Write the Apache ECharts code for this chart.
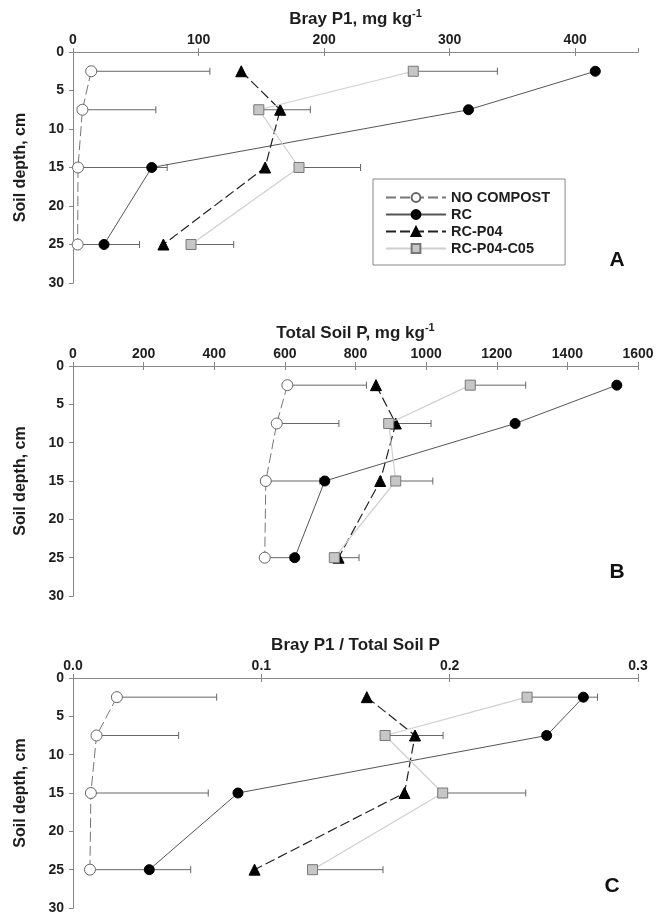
<!DOCTYPE html>
<html>
<head>
<meta charset="utf-8">
<script src="https://cdn.jsdelivr.net/npm/echarts@6/dist/echarts.min.js"></script>
<style>
html,body{margin:0;padding:0;background:#fff;}
#chart{width:665px;height:915px;}
</style>
</head>
<body>
<div id="chart"></div>
<script>
// ---- Data ----
const depths = [2.5, 7.5, 15, 25];
const seriesNames = ['NO COMPOST', 'RC', 'RC-P04', 'RC-P04-C05'];

// Panel A: Bray P1, mg/kg
const brayNoCompost = [14.5, 7.5, 4, 3.7];
const brayNoCompostErr = [109, 66, 75, 53];
const brayRC = [416, 315, 62.7, 24.7];
const brayRCP04 = [134, 165, 153, 72];
const brayRCP04C05 = [271, 148, 180, 94];
const brayRCP04C05Err = [338, 189, 229, 128];

// Panel B: Total soil P, mg/kg
const totalNoCompost = [607, 577, 546, 543];
const totalNoCompostErr = [831, 753, 699, 615];
const totalRC = [1540, 1252, 713, 628];
const totalRCP04 = [858, 914, 870, 752];
const totalRCP04C05 = [1125, 894, 914, 740];
const totalRCP04C05Err = [1282, 1014, 1019, 810];

// Panel C: Bray P1 / Total soil P
const ratioNoCompost = [0.0233, 0.0125, 0.0095, 0.009];
const ratioNoCompostErr = [0.0763, 0.0561, 0.0718, 0.0625];
const ratioRC = [0.271, 0.2515, 0.0876, 0.0405];
const ratioRCP04 = [0.156, 0.1816, 0.176, 0.0964];
const ratioRCP04C05 = [0.2411, 0.1657, 0.1963, 0.1272];
const ratioRCP04C05Err = [0.2785, 0.1965, 0.2404, 0.1646];

// Axis tick settings
const depthTicks = {min: 0, max: 30, interval: 5};
const xTicksA = {min: 0, max: 450, interval: 100};
const xTicksB = {min: 0, max: 1600, interval: 200};
const xTicksC = {min: 0, max: 0.3, interval: 0.1};

const panelTitles = [
  ['Bray P1, mg kg', '-1'],
  ['Total Soil P, mg kg', '-1'],
  ['Bray P1 / Total Soil P', '']
];
const panelLetters = ['A', 'B', 'C'];
const yAxisTitle = 'Soil depth, cm';

// ---- Styles ----
const FONT = '"Liberation Sans", Arial, sans-serif';
const AX = '#888';
const TXT = '#1e1e1e';
const styles = {
  'NO COMPOST': {symbol: 'circle', size: 11, color: '#fff', border: '#666', line: '#777', type: [10, 4], width: 1},
  'RC': {symbol: 'circle', size: 10, color: '#000', border: '#000', line: '#555', type: 'solid', width: 1},
  'RC-P04': {symbol: 'triangle', size: 11, color: '#000', border: '#000', line: '#222', type: [10, 4], width: 1.2},
  'RC-P04-C05': {symbol: 'rect', size: 10, color: '#c6c6c6', border: '#777', line: '#cfcfcf', type: 'solid', width: 1.2}
};

const grids = [
  {left: 73, top: 52, width: 565, height: 231},
  {left: 73, top: 366, width: 565, height: 230},
  {left: 73, top: 678, width: 565, height: 231}
];
const xTicks = [xTicksA, xTicksB, xTicksC];
const panelData = [
  [brayNoCompost, brayRC, brayRCP04, brayRCP04C05, brayNoCompostErr, brayRCP04C05Err],
  [totalNoCompost, totalRC, totalRCP04, totalRCP04C05, totalNoCompostErr, totalRCP04C05Err],
  [ratioNoCompost, ratioRC, ratioRCP04, ratioRCP04C05, ratioNoCompostErr, ratioRCP04C05Err]
];

const xAxes = [], yAxes = [], series = [];
grids.forEach((g, i) => {
  const t = xTicks[i];
  const fmt = i === 2 ? (v => v.toFixed(1)) : (v => (Math.abs(v % t.interval) < 1e-9 ? String(v) : ''));
  xAxes.push({
    gridIndex: i, type: 'value', position: 'top', min: t.min, max: t.max, interval: t.interval,
    axisLine: {show: true, lineStyle: {color: AX, width: 1}},
    axisTick: {show: true, inside: true, length: 4, lineStyle: {color: AX}},
    axisLabel: {show: true, margin: 5, color: TXT, fontWeight: 'bold', fontSize: 14, fontFamily: FONT, formatter: fmt, showMaxLabel: i !== 0},
    splitLine: {show: false},
    name: panelTitles[i][1] ? '{a|' + panelTitles[i][0] + '}{s|' + panelTitles[i][1] + '}' : '{a|' + panelTitles[i][0] + '}',
    nameLocation: 'middle', nameGap: 24,
    nameTextStyle: {
      rich: {
        a: {fontSize: 17, fontWeight: 'bold', fontFamily: FONT, color: TXT, lineHeight: 20, verticalAlign: 'bottom'},
        s: {fontSize: 11, fontWeight: 'bold', fontFamily: FONT, color: TXT, lineHeight: 12, verticalAlign: 'top'}
      }
    }
  });
  xAxes.push({
    gridIndex: i, type: 'value', position: 'bottom', min: t.min, max: t.max, interval: t.interval,
    axisLine: {show: true, lineStyle: {color: AX, width: 1}},
    axisTick: {show: true, inside: true, length: 4, lineStyle: {color: AX}},
    axisLabel: {show: false}, splitLine: {show: false}
  });
  yAxes.push({
    gridIndex: i, type: 'value', position: 'left', inverse: true,
    min: depthTicks.min, max: depthTicks.max, interval: depthTicks.interval,
    axisLine: {show: true, lineStyle: {color: AX, width: 1}},
    axisTick: {show: true, inside: false, length: 4, lineStyle: {color: AX}},
    axisLabel: {show: true, margin: 9, color: TXT, fontWeight: 'bold', fontSize: 14, fontFamily: FONT},
    splitLine: {show: false},
    name: yAxisTitle, nameLocation: 'middle', nameGap: 44,
    nameTextStyle: {fontSize: 16, fontWeight: 'bold', fontFamily: FONT, color: TXT}
  });
  yAxes.push({
    gridIndex: i, type: 'value', position: 'right', inverse: true,
    min: depthTicks.min, max: depthTicks.max, interval: depthTicks.interval,
    axisLine: {show: true, lineStyle: {color: AX, width: 1}},
    axisTick: {show: true, inside: true, length: 4, lineStyle: {color: AX}},
    axisLabel: {show: false}, splitLine: {show: false}
  });

  const xi = i * 2, yi = i * 2;
  const d = panelData[i];
  // error bars (NO COMPOST and RC-P04-C05)
  [[d[0], d[4]], [d[3], d[5]]].forEach(([vals, errs]) => {
    series.push({
      type: 'custom', xAxisIndex: xi, yAxisIndex: yi, z: 1, silent: true,
      data: depths.map((dep, k) => [vals[k], dep, errs[k]]),
      encode: {x: [0, 2], y: 1},
      renderItem: (params, api) => {
        const p0 = api.coord([api.value(0), api.value(1)]);
        const p1 = api.coord([api.value(2), api.value(1)]);
        return {type: 'group', children: [
          {type: 'line', shape: {x1: p0[0], y1: p0[1], x2: p1[0], y2: p1[1]}, style: {stroke: '#666', lineWidth: 1}},
          {type: 'line', shape: {x1: p1[0], y1: p1[1] - 3.5, x2: p1[0], y2: p1[1] + 3.5}, style: {stroke: '#666', lineWidth: 1}}
        ]};
      }
    });
  });
  seriesNames.forEach((name, k) => {
    const s = styles[name];
    series.push({
      name, type: 'line', xAxisIndex: xi, yAxisIndex: yi, z: 3 + k,
      data: depths.map((dep, j) => [d[k][j], dep]),
      symbol: s.symbol, symbolSize: s.size, showAllSymbol: true,
      itemStyle: {color: s.color, borderColor: s.border, borderWidth: 1, opacity: 1},
      lineStyle: {color: s.line, width: s.width, type: s.type},
      emphasis: {disabled: true}
    });
  });
});

const letterPos = [[617, 260], [617, 572], [612, 886]];
const graphics = panelLetters.map((L, i) => ({
  type: 'text', x: letterPos[i][0], y: letterPos[i][1],
  style: {text: L, fill: '#111', font: 'bold 21px ' + FONT, textAlign: 'center', textVerticalAlign: 'middle'}
}));

const chart = echarts.init(document.getElementById('chart'), null, {renderer: 'canvas'});
chart.setOption({
  animation: false,
  backgroundColor: '#fff',
  grid: grids.map(g => Object.assign({containLabel: false}, g)),
  xAxis: xAxes,
  yAxis: yAxes,
  legend: {
    data: seriesNames,
    orient: 'vertical', left: 373, top: 179,
    itemWidth: 60, itemHeight: 11, itemGap: 2, itemTextGap: 15,
    padding: [11, 15, 9, 12],
    borderColor: '#888', borderWidth: 1, backgroundColor: '#fff',
    textStyle: {fontSize: 14.5, lineHeight: 15, fontWeight: 'bold', fontFamily: FONT, color: TXT},
    selectedMode: false
  },
  graphic: graphics,
  series
});
</script>
</body>
</html>
